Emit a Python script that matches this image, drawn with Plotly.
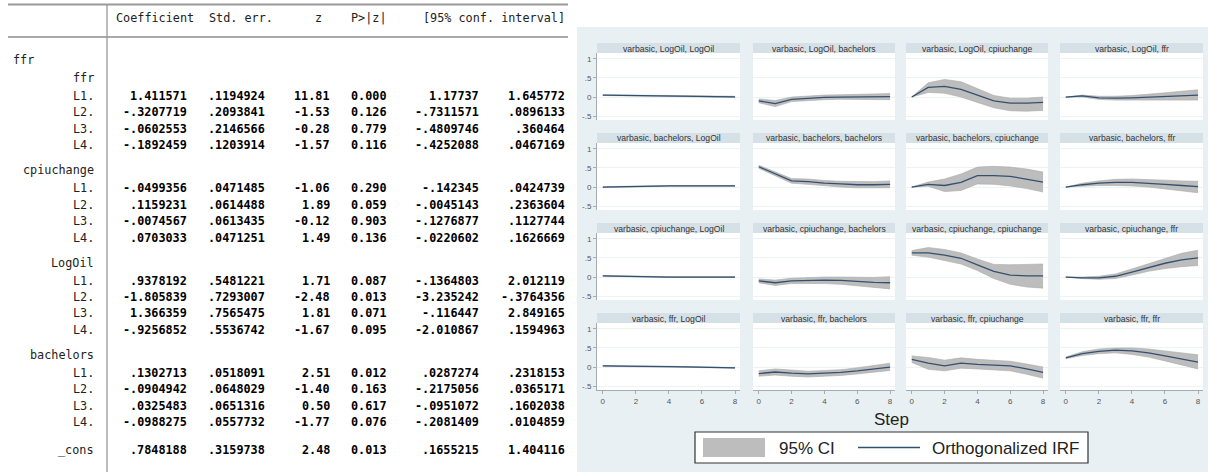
import plotly.graph_objects as go

W, H = 1208, 472

# ---------------- table data ----------------
header_cols = ["Coefficient", "Std. err.", "z", "P>|z|", "[95% conf. interval]"]
equation_name = "ffr"
block_vars = ["ffr", "cpiuchange", "LogOil", "bachelors"]
lag_labels = ["L1.", "L2.", "L3.", "L4."]
coef = ["1.411571", "-.3207719", "-.0602553", "-.1892459",
        "-.0499356", ".1159231", "-.0074567", ".0703033",
        ".9378192", "-1.805839", "1.366359", "-.9256852",
        ".1302713", "-.0904942", ".0325483", "-.0988275"]
std_err = [".1194924", ".2093841", ".2146566", ".1203914",
           ".0471485", ".0614488", ".0613435", ".0471251",
           ".5481221", ".7293007", ".7565475", ".5536742",
           ".0518091", ".0648029", ".0651316", ".0557732"]
z_vals = ["11.81", "-1.53", "-0.28", "-1.57",
          "-1.06", "1.89", "-0.12", "1.49",
          "1.71", "-2.48", "1.81", "-1.67",
          "2.51", "-1.40", "0.50", "-1.77"]
p_vals = ["0.000", "0.126", "0.779", "0.116",
          "0.290", "0.059", "0.903", "0.136",
          "0.087", "0.013", "0.071", "0.095",
          "0.012", "0.163", "0.617", "0.076"]
ci_low = ["1.17737", "-.7311571", "-.4809746", "-.4252088",
          "-.142345", "-.0045143", "-.1276877", "-.0220602",
          "-.1364803", "-3.235242", "-.116447", "-2.010867",
          ".0287274", "-.2175056", "-.0951072", "-.2081409"]
ci_high = ["1.645772", ".0896133", ".360464", ".0467169",
           ".0424739", ".2363604", ".1127744", ".1626669",
           "2.012119", "-.3764356", "2.849165", ".1594963",
           ".2318153", ".0365171", ".1602038", ".0104859"]
cons_row = ["_cons", ".7848188", ".3159738", "2.48", "0.013", ".1655215", "1.404116"]

# ---------------- IRF data ----------------
steps = [0, 1, 2, 3, 4, 5, 6, 7, 8]
variables = ["LogOil", "bachelors", "cpiuchange", "ffr"]

irf_LogOil = {
    "LogOil": [0.05, 0.045, 0.035, 0.025, 0.015, 0.01, 0.008, 0.006, 0.005],
    "bachelors": [-0.1, -0.17, -0.06, -0.03, -0.01, 0.0, 0.0, 0.01, 0.01],
    "cpiuchange": [0.0, 0.25, 0.28, 0.2, 0.05, -0.1, -0.16, -0.16, -0.14],
    "ffr": [0.0, 0.03, -0.02, -0.03, -0.02, 0.0, 0.02, 0.04, 0.05],
}
lo_LogOil = {
    "LogOil": [0.04, 0.034, 0.023, 0.012, 0.002, -0.003, -0.006, -0.008, -0.01],
    "bachelors": [-0.15, -0.25, -0.12, -0.09, -0.07, -0.06, -0.06, -0.07, -0.07],
    "cpiuchange": [0.0, 0.12, 0.1, 0.0, -0.14, -0.28, -0.36, -0.37, -0.35],
    "ffr": [0.0, 0.0, -0.06, -0.08, -0.08, -0.08, -0.07, -0.07, -0.08],
}
hi_LogOil = {
    "LogOil": [0.06, 0.056, 0.047, 0.038, 0.028, 0.023, 0.022, 0.02, 0.02],
    "bachelors": [-0.05, -0.09, 0.0, 0.03, 0.05, 0.06, 0.07, 0.08, 0.09],
    "cpiuchange": [0.0, 0.37, 0.46, 0.4, 0.22, 0.04, -0.03, -0.03, 0.0],
    "ffr": [0.0, 0.05, 0.02, 0.02, 0.04, 0.07, 0.11, 0.15, 0.19],
}

irf_bachelors = {
    "LogOil": [0.0, 0.01, 0.02, 0.03, 0.03, 0.03, 0.03, 0.03, 0.03],
    "bachelors": [0.53, 0.34, 0.16, 0.14, 0.1, 0.08, 0.06, 0.06, 0.07],
    "cpiuchange": [0.0, 0.07, 0.04, 0.12, 0.3, 0.3, 0.28, 0.21, 0.13],
    "ffr": [0.0, 0.06, 0.1, 0.12, 0.12, 0.1, 0.07, 0.04, 0.01],
}
lo_bachelors = {
    "LogOil": [-0.01, 0.0, 0.01, 0.02, 0.02, 0.02, 0.02, 0.02, 0.02],
    "bachelors": [0.49, 0.29, 0.1, 0.07, 0.03, 0.0, -0.02, -0.02, -0.02],
    "cpiuchange": [0.0, 0.02, -0.12, -0.09, 0.08, 0.07, 0.03, -0.04, -0.13],
    "ffr": [0.0, 0.02, 0.04, 0.04, 0.03, 0.0, -0.05, -0.1, -0.15],
}
hi_bachelors = {
    "LogOil": [0.01, 0.02, 0.03, 0.04, 0.04, 0.04, 0.04, 0.04, 0.04],
    "bachelors": [0.57, 0.39, 0.22, 0.21, 0.17, 0.15, 0.14, 0.14, 0.16],
    "cpiuchange": [0.0, 0.13, 0.21, 0.34, 0.52, 0.54, 0.52, 0.47, 0.39],
    "ffr": [0.0, 0.1, 0.16, 0.2, 0.21, 0.2, 0.18, 0.16, 0.15],
}

irf_cpiuchange = {
    "LogOil": [0.03, 0.02, 0.01, 0.005, 0.0, 0.0, 0.0, 0.0, 0.0],
    "bachelors": [-0.1, -0.15, -0.1, -0.09, -0.08, -0.09, -0.12, -0.14, -0.15],
    "cpiuchange": [0.63, 0.63, 0.57, 0.49, 0.32, 0.15, 0.05, 0.03, 0.03],
    "ffr": [0.0, -0.02, -0.02, 0.02, 0.13, 0.25, 0.36, 0.45, 0.5],
}
lo_cpiuchange = {
    "LogOil": [0.02, 0.01, 0.0, -0.005, -0.01, -0.01, -0.01, -0.01, -0.01],
    "bachelors": [-0.15, -0.22, -0.17, -0.17, -0.17, -0.19, -0.23, -0.27, -0.31],
    "cpiuchange": [0.57, 0.52, 0.43, 0.34, 0.17, -0.04, -0.19, -0.26, -0.29],
    "ffr": [0.0, -0.04, -0.06, -0.04, 0.05, 0.15, 0.22, 0.27, 0.3],
}
hi_cpiuchange = {
    "LogOil": [0.04, 0.03, 0.02, 0.015, 0.01, 0.01, 0.01, 0.01, 0.01],
    "bachelors": [-0.05, -0.08, -0.03, -0.01, 0.0, 0.0, -0.01, -0.01, 0.01],
    "cpiuchange": [0.69, 0.77, 0.72, 0.63, 0.47, 0.33, 0.32, 0.33, 0.34],
    "ffr": [0.0, 0.0, 0.02, 0.08, 0.21, 0.35, 0.5, 0.62, 0.7],
}

irf_ffr = {
    "LogOil": [0.03, 0.02, 0.015, 0.01, 0.01, 0.005, 0.0, -0.01, -0.02],
    "bachelors": [-0.17, -0.13, -0.16, -0.18, -0.16, -0.14, -0.1, -0.05, 0.0],
    "cpiuchange": [0.2, 0.1, 0.03, 0.1, 0.07, 0.05, 0.03, -0.05, -0.14],
    "ffr": [0.24, 0.35, 0.41, 0.44, 0.42, 0.37, 0.29, 0.21, 0.13],
}
lo_ffr = {
    "LogOil": [0.02, 0.01, 0.005, 0.0, 0.0, -0.005, -0.01, -0.02, -0.03],
    "bachelors": [-0.24, -0.21, -0.24, -0.26, -0.24, -0.22, -0.18, -0.13, -0.09],
    "cpiuchange": [0.12, -0.06, -0.1, -0.03, -0.05, -0.08, -0.1, -0.19, -0.29],
    "ffr": [0.22, 0.3, 0.35, 0.37, 0.33, 0.26, 0.16, 0.06, -0.05],
}
hi_ffr = {
    "LogOil": [0.04, 0.03, 0.025, 0.02, 0.02, 0.015, 0.01, 0.0, -0.01],
    "bachelors": [-0.1, -0.05, -0.08, -0.11, -0.09, -0.07, -0.02, 0.04, 0.1],
    "cpiuchange": [0.29, 0.25, 0.18, 0.24, 0.2, 0.18, 0.15, 0.08, 0.0],
    "ffr": [0.26, 0.4, 0.47, 0.5, 0.5, 0.47, 0.42, 0.37, 0.32],
}

irf_by_impulse = [irf_LogOil, irf_bachelors, irf_cpiuchange, irf_ffr]
lo_by_impulse = [lo_LogOil, lo_bachelors, lo_cpiuchange, lo_ffr]
hi_by_impulse = [hi_LogOil, hi_bachelors, hi_cpiuchange, hi_ffr]

y_ticks = [-0.5, 0, 0.5, 1]
y_ticktext = ["-.5", "0", ".5", "1"]
x_ticks = [0, 2, 4, 6, 8]


def px(x):
    return x / W


def py(y):
    return 1 - y / H


fig = go.Figure()
shapes = []
annotations = []

MONO = "DejaVu Sans Mono, Liberation Mono, monospace"
SANS = "Arial, Liberation Sans, sans-serif"


def add_text(x, y, text, size, anchor="right", family=MONO, color="#000"):
    annotations.append(dict(x=px(x), y=py(y), xref="paper", yref="paper",
                            text=text, showarrow=False, xanchor=anchor,
                            yanchor="middle",
                            font=dict(family=family, size=size, color=color)))


# ---------------- table layout ----------------
ch0, cw = 10.7, 7.13


def char_end(i):
    return ch0 + (i + 1) * cw


label_end = char_end(11)
col_ends = [char_end(24), char_end(35), char_end(44), char_end(52), char_end(65), char_end(77)]
head_ends = [char_end(25), char_end(36), char_end(43), char_end(52), char_end(77)]
TS = 11.8

# rules
shapes.append(dict(type="line", xref="paper", yref="paper", x0=px(8), x1=px(568),
                   y0=py(4.5), y1=py(4.5), line=dict(color="#9a9a9a", width=2)))
shapes.append(dict(type="line", xref="paper", yref="paper", x0=px(8), x1=px(568),
                   y0=py(37), y1=py(37), line=dict(color="#8c8c8c", width=1.5)))
shapes.append(dict(type="line", xref="paper", yref="paper", x0=px(107), x1=px(107),
                   y0=py(4.5), y1=py(472), line=dict(color="#9a9a9a", width=1.3)))

for txt, xe in zip(header_cols, head_ends):
    add_text(xe, 18, txt, TS, color="#222")

add_text(ch0, 60, equation_name, TS, anchor="left", color="#222")
for b, var in enumerate(block_vars):
    y_lab = 78 + 92.3 * b
    add_text(label_end, y_lab, var, TS, color="#222")
    for j, lag in enumerate(lag_labels):
        idx = b * 4 + j
        yy = y_lab + 18 + 16.4 * j
        add_text(label_end, yy, lag, TS, color="#222")
        vals = [coef[idx], std_err[idx], z_vals[idx], p_vals[idx], ci_low[idx], ci_high[idx]]
        for v, xe in zip(vals, col_ends):
            add_text(xe, yy, "<b>" + v + "</b>", TS)
add_text(label_end, 450, cons_row[0], TS, color="#222")
for v, xe in zip(cons_row[1:], col_ends):
    add_text(xe, 450, "<b>" + v + "</b>", TS)

# ---------------- IRF graph ----------------
BG = "#e9f0f3"
STRIP = "#d6e0e7"
shapes.append(dict(type="rect", xref="paper", yref="paper", x0=px(577), x1=px(1208),
                   y0=py(27), y1=py(472), fillcolor=BG, line=dict(width=0), layer="below"))

col_L = [597, 753, 906, 1060]
col_R = [740, 895, 1048, 1203]
strip_top = [43, 133, 223, 313]
STRIP_H = 10
PLOT_H = 67

layout_axes = {}
for r in range(4):
    for c in range(4):
        k = r * 4 + c + 1
        xs = "" if k == 1 else str(k)
        L, R = col_L[c], col_R[c]
        T = strip_top[r] + STRIP_H
        B = T + PLOT_H
        # white plot area and strip
        shapes.append(dict(type="rect", xref="paper", yref="paper", x0=px(L), x1=px(R),
                           y0=py(B), y1=py(T), fillcolor="white", line=dict(width=0),
                           layer="below"))
        shapes.append(dict(type="rect", xref="paper", yref="paper", x0=px(L), x1=px(R),
                           y0=py(T), y1=py(strip_top[r]), fillcolor=STRIP,
                           line=dict(width=0), layer="below"))
        add_text((L + R) / 2, strip_top[r] + STRIP_H / 2 + 0.5,
                 "varbasic, %s, %s" % (variables[r], variables[c]), 8.6,
                 anchor="center", family=SANS, color="#333")
        bottom = r == 3
        left = c == 0
        layout_axes["xaxis" + xs] = dict(
            domain=[px(L), px(R)], range=[-0.35, 8.3], anchor="y" + xs,
            showgrid=False, zeroline=False, tickvals=x_ticks,
            showticklabels=bottom, ticks="outside" if bottom else "",
            showline=bottom, linecolor="#a3adb3", linewidth=1, ticklen=3,
            tickcolor="#a3adb3", tickfont=dict(family=SANS, size=8, color="#555"),
            fixedrange=True)
        layout_axes["yaxis" + xs] = dict(
            domain=[py(B), py(T)], range=[-0.6, 1.15], anchor="x" + xs,
            tickvals=y_ticks, ticktext=y_ticktext, showticklabels=left,
            ticks="outside" if left else "", showline=left, linecolor="#a3adb3",
            linewidth=1, ticklen=3, tickcolor="#a3adb3",
            tickfont=dict(family=SANS, size=8, color="#555"),
            showgrid=True, gridcolor="#edf2f5", gridwidth=1, zeroline=False,
            fixedrange=True)
        hi = hi_by_impulse[r][variables[c]]
        lo = lo_by_impulse[r][variables[c]]
        ir = irf_by_impulse[r][variables[c]]
        fig.add_trace(go.Scatter(x=steps, y=hi, mode="lines",
                                 line=dict(color="#aaaaaa", width=0.6),
                                 xaxis="x" + xs, yaxis="y" + xs, showlegend=False,
                                 hoverinfo="skip"))
        fig.add_trace(go.Scatter(x=steps, y=lo, mode="lines", fill="tonexty",
                                 fillcolor="#bdbdbd",
                                 line=dict(color="#aaaaaa", width=0.6),
                                 xaxis="x" + xs, yaxis="y" + xs, showlegend=False,
                                 hoverinfo="skip"))
        fig.add_trace(go.Scatter(x=steps, y=ir, mode="lines",
                                 line=dict(color="#33506f", width=1.3),
                                 xaxis="x" + xs, yaxis="y" + xs, showlegend=False))

# x title
add_text(891, 419, "Step", 17, anchor="center", family=SANS, color="#222")

# legend box
shapes.append(dict(type="rect", xref="paper", yref="paper", x0=px(695), x1=px(1088),
                   y0=py(463), y1=py(432), fillcolor="white",
                   line=dict(color="#333", width=1.2)))
shapes.append(dict(type="rect", xref="paper", yref="paper", x0=px(703), x1=px(765),
                   y0=py(457), y1=py(438), fillcolor="#bdbdbd", line=dict(width=0)))
shapes.append(dict(type="line", xref="paper", yref="paper", x0=px(858), x1=px(920),
                   y0=py(447.5), y1=py(447.5), line=dict(color="#33506f", width=1.5)))
add_text(777, 448, "95% CI", 17, anchor="left", family=SANS, color="#222")
add_text(930, 448, "Orthogonalized IRF", 17, anchor="left", family=SANS, color="#222")

fig.update_layout(
    width=W, height=H, autosize=False,
    margin=dict(l=0, r=0, t=0, b=0, pad=0),
    paper_bgcolor="white", plot_bgcolor="white",
    showlegend=False, shapes=shapes, annotations=annotations,
    **layout_axes)

fig.write_html("out.html", config={"displayModeBar": False, "staticPlot": True})
